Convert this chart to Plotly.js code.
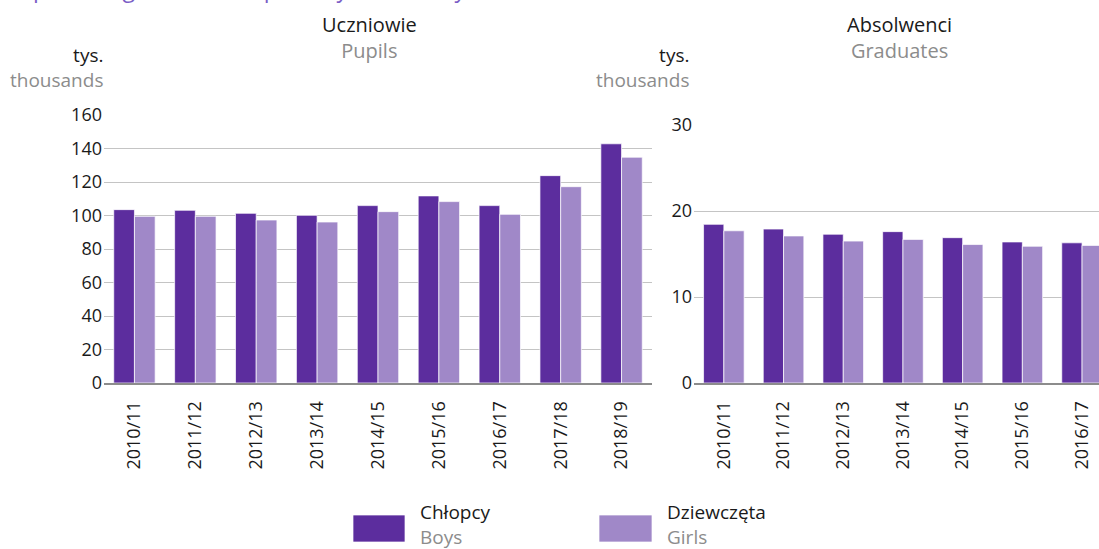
<!DOCTYPE html>
<html>
<head>
<meta charset="utf-8">
<script src="https://cdn.plot.ly/plotly-3.0.1.min.js"></script>
<style>html,body{margin:0;padding:0;background:#fff;}#chart{width:1099px;height:549px;}</style>
</head>
<body>
<div id="chart"></div>
<script>
// ---- data ----
const pupilYears = ["2010/11","2011/12","2012/13","2013/14","2014/15","2015/16","2016/17","2017/18","2018/19"];
const pupilsBoys  = [103.5, 103.1, 101.3, 100.1, 105.9, 111.7, 105.9, 123.8, 142.8];
const pupilsGirls = [99.5, 99.5, 97.3, 96.1, 102.3, 108.3, 100.7, 117.2, 134.8];

const gradYears = ["2010/11","2011/12","2012/13","2013/14","2014/15","2015/16","2016/17"];
const gradBoys  = [18.45, 17.9, 17.3, 17.6, 16.9, 16.4, 16.3];
const gradGirls = [17.7, 17.1, 16.5, 16.7, 16.1, 15.9, 16.0];

const seriesNamesPL = ["Chłopcy", "Dziewczęta"];
const seriesNamesEN = ["Boys", "Girls"];
const seriesColors = ["#5c2d9e", "#a088c8"];

const pupilTicks = [0,20,40,60,80,100,120,140,160];
const gradTicks = [0,10,20,30];

// ---- layout helpers ----
const W = 1099, H = 549;
const px = x => x / W;
const py = y => 1 - y / H;
const FONT = '"Open Sans", "Noto Sans", sans-serif';
const GREY = '#8c8c8c';
const barLine = {color: 'rgba(255,255,255,0.7)', width: 1};

const traces = [
  {type:'bar', x: pupilYears, y: pupilsBoys, name: seriesNamesPL[0], marker:{color: seriesColors[0], line: barLine}, xaxis:'x', yaxis:'y', showlegend:false, hoverinfo:'x+y'},
  {type:'bar', x: pupilYears, y: pupilsGirls, name: seriesNamesPL[1], marker:{color: seriesColors[1], line: barLine}, xaxis:'x', yaxis:'y', showlegend:false, hoverinfo:'x+y'},
  {type:'bar', x: gradYears, y: gradBoys, name: seriesNamesPL[0], marker:{color: seriesColors[0], line: barLine}, xaxis:'x2', yaxis:'y2', showlegend:false, hoverinfo:'x+y'},
  {type:'bar', x: gradYears, y: gradGirls, name: seriesNamesPL[1], marker:{color: seriesColors[1], line: barLine}, xaxis:'x2', yaxis:'y2', showlegend:false, hoverinfo:'x+y'}
];

const tickFont = {family: FONT, size: 18, color: '#1a1a1a'};

const xBase = {
  type:'category', tickangle:-90, tickfont: tickFont, ticks:'', showgrid:false,
  showline:true, linecolor:'#8c8c8c', linewidth:2, zeroline:false, ticklabelstandoff: 9, fixedrange:true
};
const yBase = {
  tickfont: tickFont, ticks:'', showgrid:true, gridcolor:'#c4c4c4', gridwidth:1,
  zeroline:false, showline:false, ticklabelstandoff: 1, fixedrange:true
};

const layout = {
  width: W, height: H,
  margin: {l:0, r:0, t:0, b:0, pad:0},
  paper_bgcolor:'#fff', plot_bgcolor:'#fff',
  barmode:'group', bargap:0.32, bargroupgap:0,
  font: {family: FONT, color:'#1a1a1a'},
  xaxis: Object.assign({}, xBase, {domain:[px(104), px(652)], range:[-0.5, pupilYears.length-0.5], anchor:'y'}),
  yaxis: Object.assign({}, yBase, {domain:[py(383), py(115)], range:[0,160], tickvals: pupilTicks, anchor:'x'}),
  xaxis2: Object.assign({}, xBase, {domain:[px(694), 1], range:[-0.5, -0.5 + (1099-694)/59.7], anchor:'y2'}),
  yaxis2: Object.assign({}, yBase, {domain:[py(383), py(125)], range:[0,30], tickvals: gradTicks, anchor:'x2'}),
  annotations: [
    {xref:'paper', yref:'paper', x: px(3), y: py(5.5), xanchor:'left', yanchor:'bottom', showarrow:false,
     text:'Pupils and graduates of primary schools by sex', font:{family: FONT, size:23, color:'#7b5ec6'}},
    {xref:'paper', yref:'paper', x: px(369), y: py(37), xanchor:'center', yanchor:'middle', showarrow:false,
     text:'Uczniowie<br><span style="color:'+GREY+'">Pupils</span>', font:{family: FONT, size:20, color:'#1a1a1a'}},
    {xref:'paper', yref:'paper', x: px(899), y: py(37), xanchor:'center', yanchor:'middle', showarrow:false,
     text:'Absolwenci<br><span style="color:'+GREY+'">Graduates</span>', font:{family: FONT, size:20, color:'#1a1a1a'}},
    {xref:'paper', yref:'paper', x: px(105), y: py(67), xanchor:'right', yanchor:'middle', align:'right', showarrow:false,
     text:'tys.<br><span style="color:'+GREY+'">thousands</span>', font:{family: FONT, size:19, color:'#1a1a1a'}},
    {xref:'paper', yref:'paper', x: px(691), y: py(67), xanchor:'right', yanchor:'middle', align:'right', showarrow:false,
     text:'tys.<br><span style="color:'+GREY+'">thousands</span>', font:{family: FONT, size:19, color:'#1a1a1a'}},
    {xref:'paper', yref:'paper', x: px(418), y: py(524), xanchor:'left', yanchor:'middle', align:'left', showarrow:false,
     text: seriesNamesPL[0] + '<br><span style="color:'+GREY+'">' + seriesNamesEN[0] + '</span>', font:{family: FONT, size:19, color:'#1a1a1a'}},
    {xref:'paper', yref:'paper', x: px(665), y: py(524), xanchor:'left', yanchor:'middle', align:'left', showarrow:false,
     text: seriesNamesPL[1] + '<br><span style="color:'+GREY+'">' + seriesNamesEN[1] + '</span>', font:{family: FONT, size:19, color:'#1a1a1a'}}
  ],
  shapes: [
    {type:'rect', xref:'paper', yref:'paper', x0: px(353), x1: px(405), y0: py(542), y1: py(515), fillcolor: seriesColors[0], line:{width:1, color:'rgba(255,255,255,0.7)'}},
    {type:'rect', xref:'paper', yref:'paper', x0: px(599), x1: px(652), y0: py(542), y1: py(515), fillcolor: seriesColors[1], line:{width:1, color:'rgba(255,255,255,0.7)'}}
  ]
};

Plotly.newPlot('chart', traces, layout, {displayModeBar:false, staticPlot:true});
</script>
</body>
</html>
